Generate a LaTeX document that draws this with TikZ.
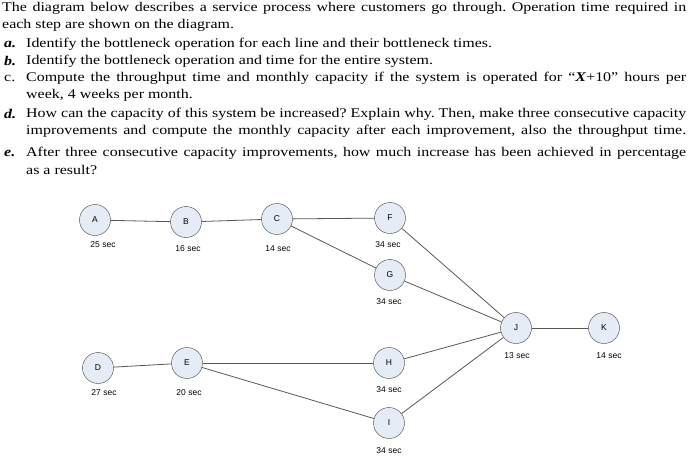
\documentclass[tikz,border=0pt]{standalone}
\usepackage{fontspec}
\usepackage{graphicx}
\setmainfont{Liberation Serif}
\newfontfamily\arialf{Liberation Sans}
\newcommand{\wide}[1]{\scalebox{1.2}[1]{#1}}
\frenchspacing
\begin{document}
\begin{tikzpicture}[x=1pt,y=-1pt,
  st/.style={circle,draw=black!75,fill={rgb,255:red,230;green,236;blue,246},minimum size=31pt,inner sep=0pt,font=\arialf\fontsize{8.5}{10}\selectfont},
  lb/.style={font=\arialf\fontsize{8.5}{10}\selectfont,inner sep=0pt},
  ln/.style={anchor=west,inner sep=0pt,font=\fontsize{13.3}{15}\selectfont},
  ed/.style={draw=black!65,line width=0.8pt}]
\useasboundingbox (0,0) rectangle (688,475);
\node[ln] (t1) at (2,8) {\wide{\makebox[570pt][s]{The diagram below describes a service process where customers go through. Operation time required in}}};
\node[ln] (t2) at (2,25) {\wide{each step are shown on the diagram.}};
\node[ln] (a1) at (4,44) {\wide{\textbf{\textit{a.}}}};
\node[ln] (a2) at (26,44) {\wide{Identify the bottleneck operation for each line and their bottleneck times.}};
\node[ln] (b1) at (4,61) {\wide{\textbf{\textit{b.}}}};
\node[ln] (b2) at (26,61) {\wide{Identify the bottleneck operation and time for the entire system.}};
\node[ln] (c1) at (4,78) {\wide{c.}};
\node[ln] (c2) at (26,78) {\wide{\makebox[550pt][s]{Compute the throughput time and monthly capacity if the system is operated for ``\textbf{\textit{X}}+10'' hours per}}};
\node[ln] (c3) at (26,95) {\wide{week, 4 weeks per month.}};
\node[ln] (d1) at (4,114) {\wide{\textbf{\textit{d.}}}};
\node[ln] (d2) at (26,114) {\wide{\makebox[550pt][s]{How can the capacity of this system be increased? Explain why. Then, make three consecutive capacity}}};
\node[ln] (d3) at (26,131) {\wide{\makebox[550pt][s]{improvements and compute the monthly capacity after each improvement, also the throughput time.}}};
\node[ln] (e1) at (4,153) {\wide{\textbf{\textit{e.}}}};
\node[ln] (e2) at (26,153) {\wide{\makebox[550pt][s]{After three consecutive capacity improvements, how much increase has been achieved in percentage}}};
\node[ln] (e3) at (26,170) {\wide{as a result?}};

\node[st] (A) at (95,220) {A};
\node[st] (B) at (186,222) {B};
\node[st] (C) at (277,219) {C};
\node[st] (F) at (390,218) {F};
\node[st] (G) at (390,275) {G};
\node[st] (J) at (516,328) {J};
\node[st] (K) at (604,328) {K};
\node[st] (D) at (98,368) {D};
\node[st] (E) at (187,363) {E};
\node[st] (H) at (389,363) {H};
\node[st] (I) at (389,423) {I};

\node[lb] (lA) at (103,245) {25 sec};
\node[lb] (lB) at (188,249) {16 sec};
\node[lb] (lC) at (278,249) {14 sec};
\node[lb] (lF) at (388,245) {34 sec};
\node[lb] (lG) at (389,302) {34 sec};
\node[lb] (lJ) at (517,356) {13 sec};
\node[lb] (lK) at (609,356) {14 sec};
\node[lb] (lD) at (104,393) {27 sec};
\node[lb] (lE) at (189,393) {20 sec};
\node[lb] (lH) at (389,390) {34 sec};
\node[lb] (lI) at (389,451) {34 sec};

\draw[ed] (A)--(B); \draw[ed] (B)--(C); \draw[ed] (C)--(F); \draw[ed] (C)--(G);
\draw[ed] (F)--(J); \draw[ed] (G)--(J); \draw[ed] (J)--(K);
\draw[ed] (D)--(E); \draw[ed] (E)--(H); \draw[ed] (E)--(I);
\draw[ed] (H)--(J); \draw[ed] (I)--(J);
\end{tikzpicture}
\end{document}
